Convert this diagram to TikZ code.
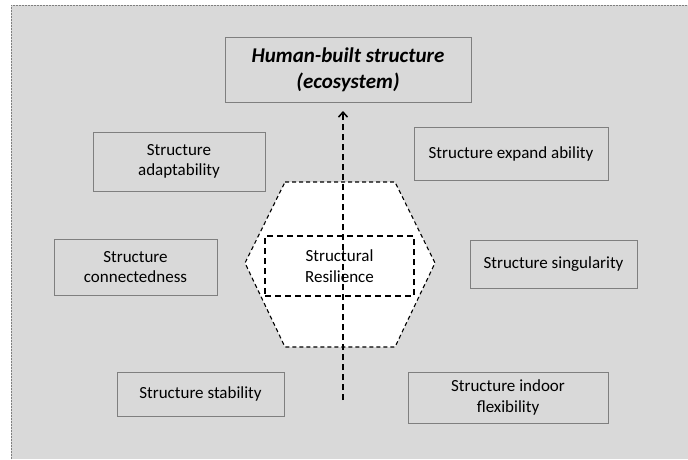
\documentclass[tikz,border=0pt]{standalone}
\usepackage{fontspec}
\setmainfont{Carlito}
\usepackage{tikz}
\usetikzlibrary{arrows.meta,positioning,calc}
\definecolor{bggray}{HTML}{D9D9D9}
\definecolor{edgegray}{HTML}{7F7F7F}

\begin{document}
\begin{tikzpicture}[x=1pt,y=-1pt,
    factor/.style={draw=edgegray,line width=1pt,align=center,inner sep=0pt,
      font=\fontsize{17}{20.5}\selectfont},
    goal/.style={factor,font=\fontsize{21}{26}\selectfont\bfseries\itshape},
    hexline/.style={draw=black,fill=white,line width=1.1pt,dash pattern=on 4pt off 3pt},
    core/.style={draw=black,line width=1.5pt,dash pattern=on 6pt off 4pt,align=center,
      inner sep=0pt,font=\fontsize{17}{21}\selectfont},
    flow/.style={line width=1.5pt,dash pattern=on 6pt off 4pt,-{Straight Barb[length=5pt,width=9pt]}}]
  \useasboundingbox (0,0) rectangle (688,459);
  % background panel
  \fill[bggray] (11,5) rectangle (688,459);
  \draw[edgegray,line width=0.6pt,dash pattern=on 2pt off 1pt] (11,459) -- (11,5) -- (688,5);

  % outer boxes
  \node[goal,minimum width=246pt,minimum height=65pt] (human) at (348,69.5) {Human-built structure\\(ecosystem)};
  \node[factor,minimum width=172pt,minimum height=59pt] (adapt) at (179,161.5) {Structure\\adaptability};
  \node[factor,minimum width=194pt,minimum height=53pt] (expand) at (511,153.5) {Structure expand ability};
  \node[factor,minimum width=163pt,minimum height=56pt] (connect) at (135.5,267) {Structure\\connectedness};
  \node[factor,minimum width=167pt,minimum height=48pt] (single) at (553.5,264) {Structure singularity};
  \node[factor,minimum width=167pt,minimum height=44pt] (stable) at (200.5,394) {Structure stability};
  \node[factor,minimum width=200pt,minimum height=51pt] (indoor) at (508,397.5) {Structure indoor\\flexibility};

  % hexagon round the core
  \coordinate (h1) at (285,182); \coordinate (h2) at (395,182);
  \coordinate (h3) at (435,263); \coordinate (h4) at (395,347);
  \coordinate (h5) at (285,347); \coordinate (h6) at (245,263);
  \draw[hexline] (h1) -- (h2) -- (h3) -- (h4) -- (h5) -- (h6) -- cycle;
  \node[core,minimum width=149pt,minimum height=60pt] (resil) at (339.5,266) {Structural\\Resilience};

  % upward arrow
  \coordinate (arrlow) at (343,400);
  \coordinate (arrhigh) at (343,111);
  \draw[flow] (arrlow) -- (arrhigh);
\end{tikzpicture}
\end{document}
